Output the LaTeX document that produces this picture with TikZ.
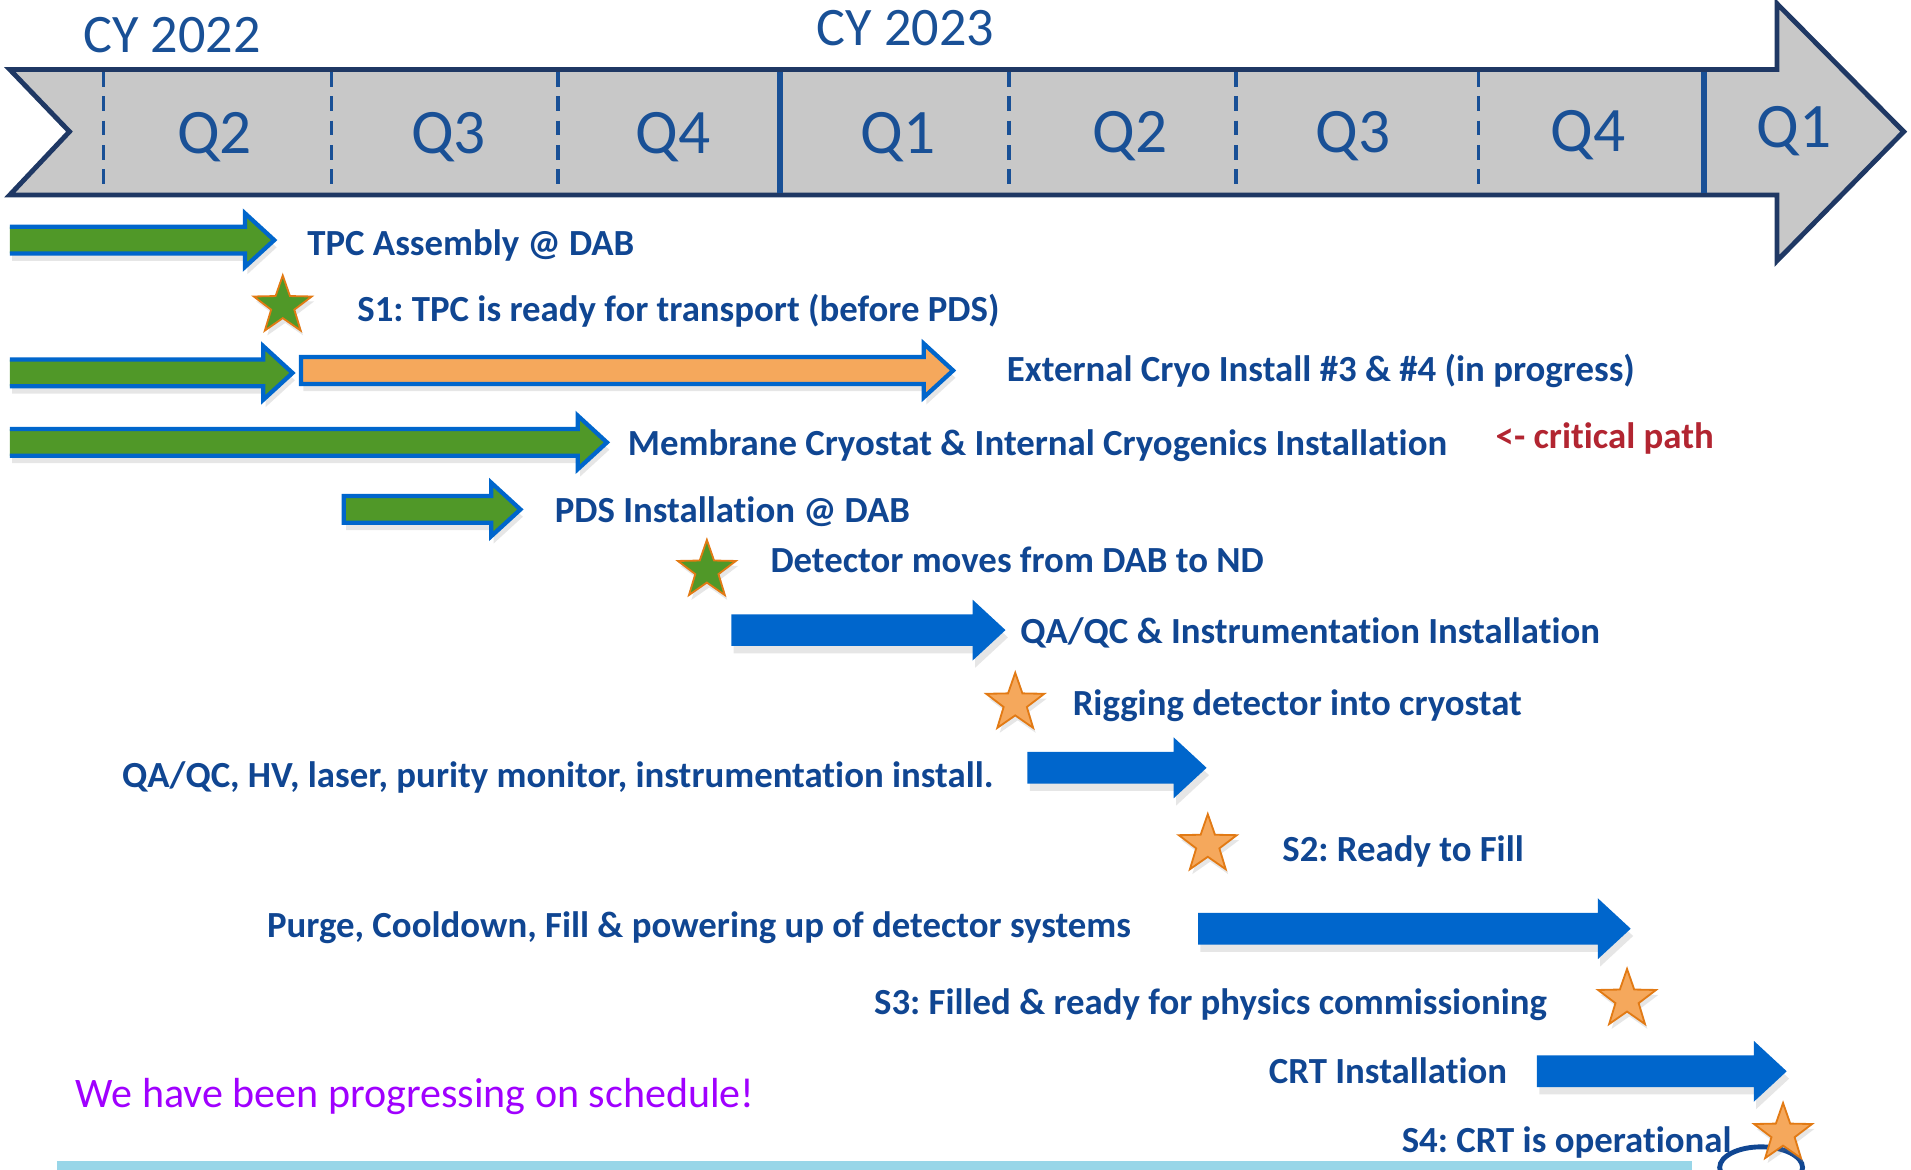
\documentclass[tikz,border=0pt]{standalone}
\usepackage{fontspec}
\setmainfont{Carlito}[Ligatures={NoCommon}]
\usetikzlibrary{shapes.geometric,shadows}
\frenchspacing

\definecolor{navy}{RGB}{31,56,100}
\definecolor{qblue}{RGB}{25,80,150}
\definecolor{txtblue}{RGB}{16,70,146}
\definecolor{barblue}{RGB}{0,102,204}
\definecolor{bargreen}{RGB}{80,152,40}
\definecolor{barorange}{RGB}{245,168,92}
\definecolor{starline}{RGB}{226,122,20}
\definecolor{critred}{RGB}{178,37,49}
\definecolor{purp}{RGB}{160,0,255}
\definecolor{lightbar}{RGB}{152,214,232}
\definecolor{bandgray}{RGB}{200,200,200}

\begin{document}
\begin{tikzpicture}
  [x=1pt,y=-1pt,
   task/.style={anchor=base west,inner sep=0pt,text=txtblue,font=\fontsize{30.2}{31}\selectfont\bfseries},
   quarter/.style={anchor=base,inner sep=0pt,text=qblue,font=\fontsize{52}{54}\selectfont},
   year/.style={anchor=base west,inner sep=0pt,text=qblue,font=\fontsize{44.5}{46}\selectfont},
   star5/.style={star,star points=5,star point ratio=2.5,minimum size=50pt,inner sep=0pt,
                 draw=starline,line width=1.5pt,drop shadow={opacity=.2,shadow xshift=2pt,shadow yshift=-4pt}},
   shade/.style={drop shadow={opacity=.2,shadow xshift=2pt,shadow yshift=-6pt}}]

  \useasboundingbox (0,0) rectangle (1568,960);
  \clip (0,0) rectangle (1568,960);

  % timeline band
  \draw[navy,line width=4pt,fill=bandgray]
    (8,57) -- (1458,57) -- (1458,3) -- (1562,108) -- (1458,214) -- (1458,160) -- (8,160) -- (57,108) -- cycle;
  \foreach \x in {85,272,458,828,1014,1213}
    \draw[qblue,line width=2.8pt,dash pattern=on 12pt off 8pt] (\x,59) -- (\x,158);
  \foreach \x in {640,1398}
    \draw[qblue,line width=5pt] (\x,59) -- (\x,158);

  \foreach \x/\y/\q [count=\i] in {176/126/Q2,368/126/Q3,552/126/Q4,737/126/Q1,927/125/Q2,1110/125/Q3,1303/124/Q4,1472/121/Q1}
    \node[quarter] (q\i) at (\x,\y) {\q};
  \node[year] (cy22) at (68,43) {CY 2022};
  \node[year] (cy23) at (670,37) {CY 2023};

  % bars starting at the left edge
  \foreach \a/\b/\c in {8/225/197, 8/240/306, 8/498/363}
    \draw[shade,barblue,line width=3.5pt,fill=bargreen,line join=miter]
      (\a,\c-11) -- (\b-24,\c-11) -- (\b-24,\c-22) -- (\b,\c) -- (\b-24,\c+22) -- (\b-24,\c+11) -- (\a,\c+11);
  \foreach \a/\b/\c/\col in {247/782/304/barorange, 282/427/418/bargreen}
    \draw[shade,barblue,line width=3.5pt,fill=\col,line join=miter]
      (\a,\c-11) -- (\b-24,\c-11) -- (\b-24,\c-22) -- (\b,\c) -- (\b-24,\c+22) -- (\b-24,\c+11) -- (\a,\c+11) -- cycle;
  \foreach \a/\b/\c in {600/825/517, 843/990/630, 983/1338/762, 1261/1466/879}
    \fill[shade,barblue]
      (\a,\c-13) -- (\b-27,\c-13) -- (\b-27,\c-25) -- (\b,\c) -- (\b-27,\c+25) -- (\b-27,\c+13) -- (\a,\c+13) -- cycle;

  % milestones
  \node[star5,fill=bargreen] (s1) at (232,251) {};
  \node[star5,fill=bargreen] (move) at (580,468) {};
  \node[star5,fill=barorange] (rig) at (833,577) {};
  \node[star5,fill=barorange] (s2) at (991,693) {};
  \node[star5,fill=barorange] (s3) at (1335,820) {};
  \draw[txtblue,line width=4pt] (1445,958) ellipse [x radius=34,y radius=17];
  \node[star5,fill=barorange] (s4) at (1463,930) {};

  \node[task] (tpc) at (252,210) {TPC Assembly @ DAB};
  \node[task] (s1t) at (293,264) {S1: TPC is ready for transport (before PDS)};
  \node[task] (cryo) at (826,313) {External Cryo Install \#3 \& \#4 (in progress)};
  \node[task] (memb) at (515,374) {Membrane Cryostat \& Internal Cryogenics Installation};
  \node[task,text=critred] (crit) at (1227,368) {<- critical path};
  \node[task] (pds) at (455,429) {PDS Installation @ DAB};
  \node[task] (movet) at (632,470) {Detector moves from DAB to ND};
  \node[task] (qaqc) at (837,528) {QA/QC \& Instrumentation Installation};
  \node[task] (rigt) at (880,587) {Rigging detector into cryostat};
  \node[task] (inst) at (100,646) {QA/QC, HV, laser, purity monitor, instrumentation install.};
  \node[task] (s2t) at (1052,707) {S2: Ready to Fill};
  \node[task] (purge) at (219,769) {Purge, Cooldown, Fill \& powering up of detector systems};
  \node[task] (s3t) at (717,832) {S3: Filled \& ready for physics commissioning};
  \node[task] (crt) at (1041,889) {CRT Installation};
  \node[task] (s4t) at (1150,946) {S4: CRT is operational};

  \node[anchor=base west,inner sep=0pt,text=purp,font=\fontsize{34.5}{36}\selectfont] (sched) at (62,909) {We have been progressing on schedule!};
  \fill[lightbar] (47,953) rectangle (1388,962);

\end{tikzpicture}
\end{document}
